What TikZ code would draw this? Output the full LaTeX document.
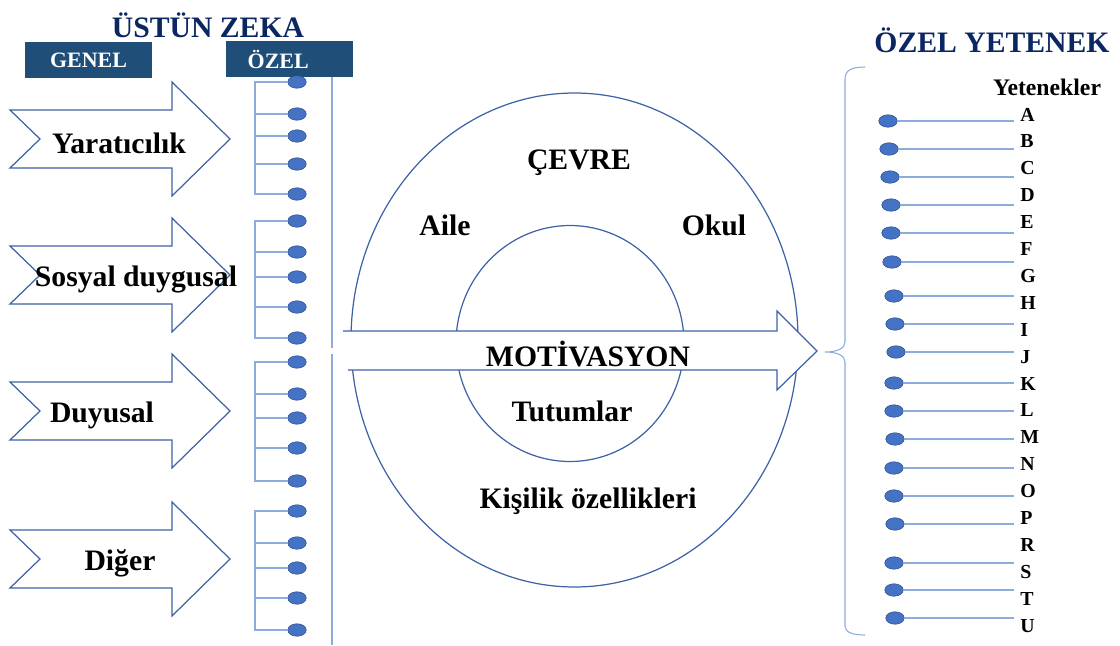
\documentclass[tikz,border=0pt]{standalone}
\usepackage{fontspec}
\setmainfont{Liberation Serif}
\usepackage{tikz}
\usetikzlibrary{shapes.geometric}
\definecolor{navy}{HTML}{0B2763}
\definecolor{boxblue}{HTML}{1F4E79}
\definecolor{edgeblue}{HTML}{3E62A6}
\definecolor{lineblue}{HTML}{8FAADC}
\definecolor{dotblue}{HTML}{4472C4}
\tikzstyle{every node} = [align = center, inner sep = 0pt, font = \bfseries]
\tikzstyle{bigtext} = [anchor = base, font = \bfseries\fontsize{16.9}{18}\selectfont]
\tikzstyle{title} = [bigtext, text = navy]
\tikzstyle{headbox} = [fill = boxblue, text = white, minimum width = 2.54cm, minimum height = 0.72cm,
    font = \bfseries\fontsize{12.5}{14}\selectfont]
\tikzstyle{bluedot} = [ellipse, fill = dotblue, draw = dotblue!70!black, line width = 0.3pt,
    minimum width = 0.37cm, minimum height = 0.25cm]
\tikzstyle{outline} = [draw = edgeblue, line width = 0.7pt]
\tikzstyle{branch} = [draw = lineblue, line width = 0.6pt]
\tikzstyle{letter} = [anchor = base west, font = \bfseries\fontsize{11.3}{13}\selectfont]

\begin{document}
\begin{tikzpicture}[x = 0.02cm, y = -0.02cm]
        \useasboundingbox (0, 0) rectangle (1120, 646);
        % headings
        \node [title] (ustun) at (208, 37) {ÜSTÜN ZEKA};
        \node [title] (ozelyet) at (992, 52) {ÖZEL YETENEK};
        \node [headbox] (genel) at (88.5, 60) {GENEL};
        \node [headbox] (ozel) at (289.5, 59) {ÖZEL\hspace{0.45cm}};
        % general arrows
        \foreach \c in {139, 275, 411, 559}
        {
            \draw [outline, fill = white] (10, \c-29) -- (172, \c-29) -- (172, \c-57) -- (230, \c)
                -- (172, \c+57) -- (172, \c+29) -- (10, \c+29) -- (40, \c) -- cycle;
        }
        \node [bigtext] (yarat) at (119, 153) {Yaratıcılık};
        \node [bigtext] (sosyal) at (136, 286) {Sosyal duygusal};
        \node [bigtext] (duyusal) at (102, 422) {Duyusal};
        \node [bigtext] (diger) at (120, 570) {Diğer};
        % special branches
        \foreach \g/\ya/\yb/\yc/\yd/\ye in {1/82/114/136/164/194, 2/221/252/277/307/338,
            3/362/394/418/448/481, 4/511/543/568/598/630}
        {
            \foreach \y [count = \i] in {\ya, \yb, \yc, \yd, \ye}
                \node [bluedot] (d\g\i) at (297, \y) {};
            \draw [branch] (d\g1.west) -| (255, \ye) -- (d\g5.west);
            \foreach \i in {2, 3, 4}
                \draw [branch] (d\g\i.west) -- (255, 0 |- d\g\i.west);
        }
        \draw [branch] (332, 77) -- (332, 348);
        \draw [branch] (332, 354) -- (332, 645);
        % environment
        \draw [outline] (574.5, 340) ellipse [x radius = 223.5, y radius = 247];
        \draw [outline] (570, 343.5) ellipse [x radius = 114, y radius = 118];
        \node [bigtext] (cevre) at (579, 169) {ÇEVRE};
        \node [bigtext] (aile) at (445, 235) {Aile};
        \node [bigtext] (okul) at (714, 235) {Okul};
        \node [bigtext] (tutum) at (572, 421) {Tutumlar};
        \node [bigtext] (kisilik) at (588, 508) {Kişilik özellikleri};
        % motivation
        \fill [white] (343, 331) -- (777, 331) -- (777, 311) -- (817, 351) -- (777, 390)
            -- (777, 370) -- (348, 370) -- cycle;
        \draw [outline] (343, 331) -- (777, 331) -- (777, 311) -- (817, 351) -- (777, 390)
            -- (777, 370) -- (348, 370);
        \node [bigtext] (motiv) at (588, 366) {MOTİVASYON};
        % special talents
        \draw [branch] (865, 67) .. controls (852, 67) and (845, 70) .. (845, 79) -- (845, 342)
            .. controls (845, 348) and (838, 352) .. (825, 352)
            .. controls (838, 352) and (845, 356) .. (845, 362) -- (845, 626)
            .. controls (845, 632) and (852, 635) .. (865, 635);
        \node [anchor = base, font = \bfseries\fontsize{13.5}{15}\selectfont] (yetenek) at (1047, 95) {Yetenekler};
        \foreach \l [count = \i from 0] in {A, B, C, D, E, F, G, H, I, J, K, L, M, N, O, P, R, S, T, U}
            \node [letter] (l\l) at (1020, 121 + 26.9*\i) {\l};
        \foreach \x/\y [count = \i] in {888/121, 889/149, 890/177, 891/205, 891/233, 892/262,
            894/296, 895/324, 896/352, 894/383, 894/411, 895/439, 894/468, 894/496,
            895/524, 894/563, 894/590, 895/618}
        {
            \node [bluedot] (r\i) at (\x, \y) {};
            \coordinate (e\i) at (1014, \y);
            \draw [branch] (r\i.east) -- (e\i);
        }
    \end{tikzpicture}
\end{document}
